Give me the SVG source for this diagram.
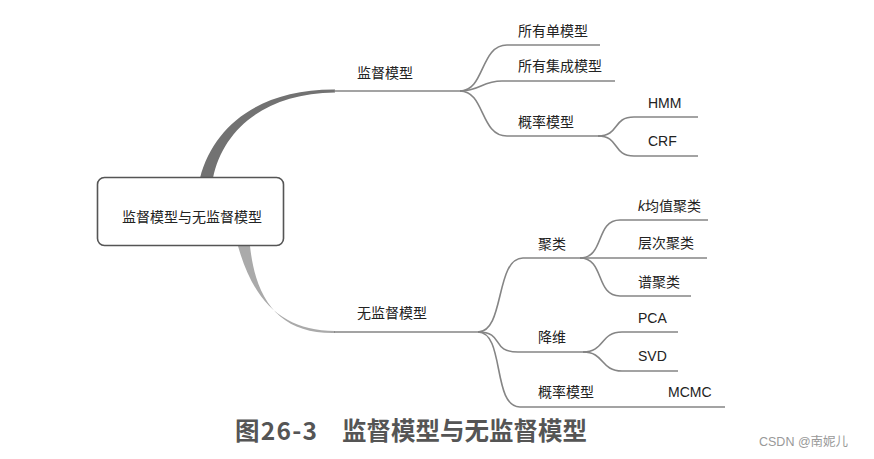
<svg xmlns="http://www.w3.org/2000/svg" width="874" height="459" viewBox="0 0 874 459">
<style>
.t{font-family:"Liberation Sans","Noto Sans CJK SC",sans-serif;font-size:14px;fill:#222}
.c{fill:none;stroke:#858585;stroke-width:1.6}
.cap{font-family:"Noto Sans CJK SC",sans-serif;font-size:24.5px;font-weight:bold;fill:#555}
.wm{font-family:"Liberation Sans","Noto Sans CJK SC",sans-serif;font-size:12.5px;fill:#999}
</style>
<rect width="874" height="459" fill="#fff"/>
<g id="connectors">
<path d="M200 178 C214 124 262 89 335 89.5 L335 92.5 C266 93 223 129 213 178 Z" fill="#727272"/>
<path d="M238 246 C254 303 284 331 335 331 L335 333 C281 334 256 302 250 246 Z" fill="#aaaaaa"/>
<path class="c" d="M334 91 H462"/>
<path class="c" d="M334 332 H480"/>
<path class="c" d="M460 91 C485 91 480 45 507 45 H600"/>
<path class="c" d="M460 91 C480 91 482 81 502 81 H615"/>
<path class="c" d="M460 91 C485 91 480 136 507 136 H600"/>
<path class="c" d="M598 136 C620 136 612 117 634 117 H698"/>
<path class="c" d="M598 136 C620 136 612 156 634 156 H698"/>
<path class="c" d="M478 332 C505 332 495 258 523 258 H583"/>
<path class="c" d="M478 332 C505 332 490 352 518 352 H587"/>
<path class="c" d="M478 332 C505 332 492 407 520 407 H725"/>
<path class="c" d="M580 258 C605 258 595 220 620 220 H708"/>
<path class="c" d="M580 258 H707"/>
<path class="c" d="M580 258 C605 258 595 296 620 296 H691"/>
<path class="c" d="M583 352 C605 352 600 332 622 332 H678"/>
<path class="c" d="M583 352 C605 352 600 371 622 371 H678"/>
</g>
<g id="root">
<rect x="97.5" y="177.5" width="186" height="68" rx="7" fill="#fff" stroke="#555" stroke-width="1.6"/>
<text class="t" x="192" y="222" text-anchor="middle">监督模型与无监督模型</text>
</g>
<g id="n-supervised"><text class="t" x="357" y="78">监督模型</text></g>
<g id="n-unsupervised"><text class="t" x="357" y="318">无监督模型</text></g>
<g id="n-single"><text class="t" x="518" y="36">所有单模型</text></g>
<g id="n-ensemble"><text class="t" x="518" y="71">所有集成模型</text></g>
<g id="n-prob1"><text class="t" x="518" y="127">概率模型</text></g>
<g id="n-hmm"><text class="t" x="648" y="108">HMM</text></g>
<g id="n-crf"><text class="t" x="648" y="146">CRF</text></g>
<g id="n-cluster"><text class="t" x="538" y="249">聚类</text></g>
<g id="n-kmeans"><text class="t" x="638" y="211"><tspan font-style="italic">k</tspan>均值聚类</text></g>
<g id="n-hier"><text class="t" x="638" y="248">层次聚类</text></g>
<g id="n-spectral"><text class="t" x="638" y="287">谱聚类</text></g>
<g id="n-dimred"><text class="t" x="538" y="342">降维</text></g>
<g id="n-pca"><text class="t" x="638" y="323">PCA</text></g>
<g id="n-svd"><text class="t" x="638" y="361">SVD</text></g>
<g id="n-prob2"><text class="t" x="538" y="397">概率模型</text></g>
<g id="n-mcmc"><text class="t" x="668" y="397">MCMC</text></g>
<text class="cap" x="235" y="440" textLength="82" lengthAdjust="spacing">图26-3</text>
<text class="cap" x="342" y="440" textLength="245" lengthAdjust="spacing">监督模型与无监督模型</text>
<text class="wm" x="759" y="446">CSDN @南妮儿</text>
</svg>
